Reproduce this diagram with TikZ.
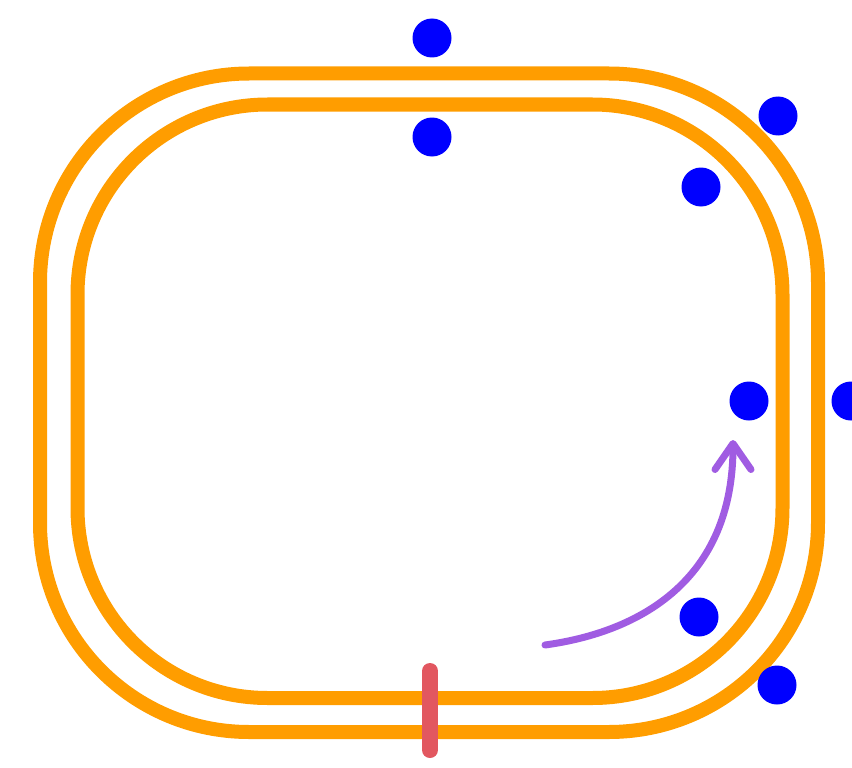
\documentclass[tikz,border=0pt]{standalone}
\usetikzlibrary{arrows.meta}
\definecolor{ringorange}{RGB}{255,157,0}
\definecolor{dotblue}{RGB}{0,0,255}
\definecolor{markred}{RGB}{226,87,96}
\definecolor{arrowpurple}{RGB}{160,92,226}
\begin{document}
\begin{tikzpicture}[x=1pt,y=-1pt,
  ring/.style={draw=ringorange,line width=14pt},
  dot/.style={circle,fill=dotblue,draw=none,minimum size=39pt,inner sep=0pt},
  marker/.style={draw=markred,line width=16pt,line cap=round},
  flow/.style={draw=arrowpurple,line width=7pt,line cap=round,-{Straight Barb[length=26pt,width=36pt,line cap=round,line join=round]}}]
\useasboundingbox (0,0) rectangle (852,768);
% membranes
\draw[ring,rounded corners=209pt] (40,73.5) rectangle (818,732);
\draw[ring,rounded corners=190pt] (77.5,104.5) rectangle (782.5,698);
% dots
\node[dot] (d1) at (432,38) {};
\node[dot] (d2) at (432,137) {};
\node[dot] (d3) at (778,116) {};
\node[dot] (d4) at (701,187) {};
\node[dot] (d5) at (749,401) {};
\node[dot] (d6) at (851,401) {};
\node[dot] (d7) at (699,617) {};
\node[dot] (d8) at (777,685) {};
% red marker
\coordinate (m1) at (430,671);
\coordinate (m2) at (430,750);
\draw[marker] (m1) -- (m2);
% purple arrow
\coordinate (a0) at (545,645);
\coordinate (a1) at (733,440);
\draw[flow] (a0) .. controls (640,632) and (733,580) .. (a1);
\end{tikzpicture}
\end{document}
